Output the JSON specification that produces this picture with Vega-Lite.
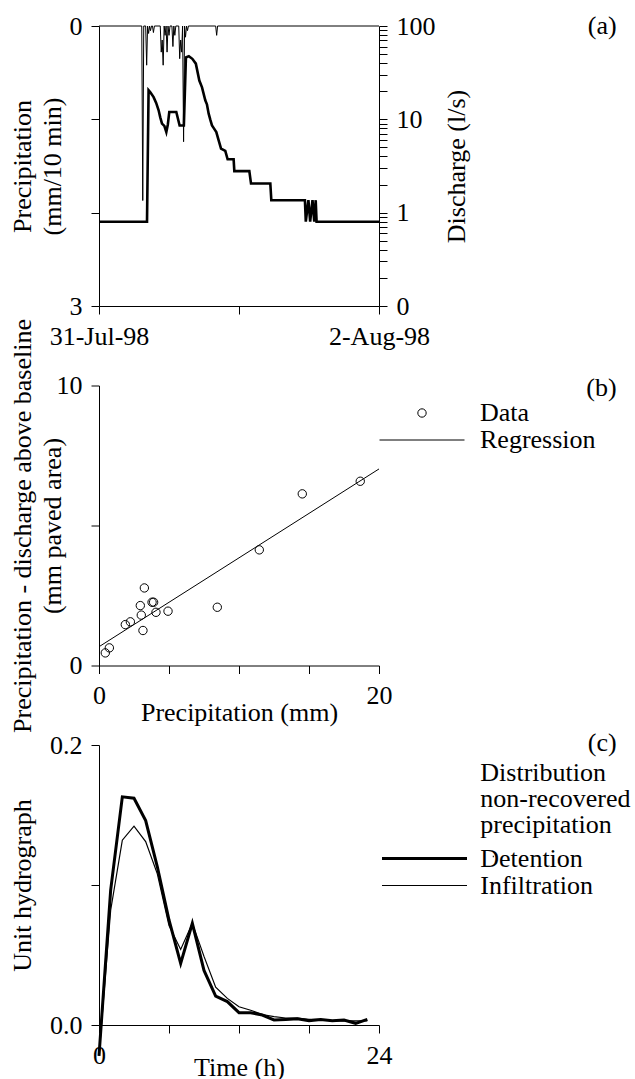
{
  "$schema": "https://vega.github.io/schema/vega-lite/v6.json",
  "padding": {"left": 9, "top": 13, "right": 5, "bottom": 0},
  "bounds": "flush",
  "spacing": 79.5,
  "datasets": {
    "precip": [
      {"hour":0,"mm":0},{"hour":7.33,"mm":0},{"hour":7.5,"mm":1.87},{"hour":7.67,"mm":0},{"hour":8.0,"mm":0},{"hour":8.17,"mm":0.42},{"hour":8.33,"mm":0},{"hour":8.5,"mm":0.08},{"hour":8.67,"mm":0},{"hour":8.83,"mm":0.05},{"hour":9.0,"mm":0},{"hour":9.17,"mm":0},{"hour":9.33,"mm":0.07},{"hour":9.5,"mm":0},{"hour":10.5,"mm":0},{"hour":10.67,"mm":0.28},{"hour":10.83,"mm":0.15},{"hour":11.0,"mm":0.42},{"hour":11.17,"mm":0},{"hour":11.33,"mm":0.1},{"hour":11.5,"mm":0},{"hour":11.67,"mm":0.28},{"hour":11.83,"mm":0},{"hour":12.0,"mm":0.1},{"hour":12.17,"mm":0},{"hour":12.5,"mm":0},{"hour":12.67,"mm":0.22},{"hour":12.83,"mm":0},{"hour":13.0,"mm":0.1},{"hour":13.17,"mm":0},{"hour":13.67,"mm":0},{"hour":13.83,"mm":0.35},{"hour":14.0,"mm":0.15},{"hour":14.17,"mm":0.28},{"hour":14.33,"mm":0},{"hour":14.5,"mm":1.24},{"hour":14.67,"mm":0},{"hour":14.83,"mm":0.12},{"hour":15.0,"mm":0},{"hour":15.17,"mm":0.05},{"hour":15.33,"mm":0},{"hour":20.0,"mm":0},{"hour":20.17,"mm":0.1},{"hour":20.33,"mm":0},{"hour":48,"mm":0}
    ],
    "discharge": [
      {"hour":0,"q":0.8},{"hour":8.23,"q":0.8},{"hour":8.5,"q":20.5},{"hour":8.8,"q":19.5},{"hour":9.36,"q":17.3},{"hour":9.8,"q":15},{"hour":10.22,"q":12.5},{"hour":10.5,"q":10.5},{"hour":10.8,"q":9.0},{"hour":11.2,"q":8.5},{"hour":11.54,"q":7.3},{"hour":11.8,"q":8.8},{"hour":12.05,"q":12},{"hour":13.25,"q":12},{"hour":13.82,"q":8.6},{"hour":14.55,"q":8.6},{"hour":14.9,"q":46},{"hour":15.4,"q":47.5},{"hour":16.0,"q":44.5},{"hour":16.6,"q":39.5},{"hour":17.2,"q":26},{"hour":17.66,"q":22},{"hour":18.22,"q":16},{"hour":18.5,"q":14.5},{"hour":18.8,"q":11.5},{"hour":19.1,"q":9.8},{"hour":19.37,"q":8.6},{"hour":19.7,"q":8},{"hour":20.11,"q":7.3},{"hour":20.5,"q":6},{"hour":20.92,"q":4.86},{"hour":21.65,"q":4.6},{"hour":22.05,"q":3.73},{"hour":23.08,"q":3.73},{"hour":23.2,"q":2.79},{"hour":25.77,"q":2.79},{"hour":26.06,"q":2.05},{"hour":29.37,"q":2.05},{"hour":29.54,"q":1.36},{"hour":35.3,"q":1.36},{"hour":35.45,"q":0.8},{"hour":35.9,"q":1.36},{"hour":36.2,"q":0.8},{"hour":36.6,"q":1.36},{"hour":36.9,"q":0.8},{"hour":37.15,"q":1.36},{"hour":37.3,"q":0.8},{"hour":48,"q":0.8}
    ],
    "points": [
      {"p":0.45,"d":0.45,"series":"Data"},{"p":0.74,"d":0.63,"series":"Data"},{"p":1.88,"d":1.46,"series":"Data"},{"p":2.24,"d":1.56,"series":"Data"},{"p":2.95,"d":2.14,"series":"Data"},{"p":3.02,"d":1.80,"series":"Data"},{"p":3.14,"d":1.25,"series":"Data"},{"p":3.24,"d":2.77,"series":"Data"},{"p":3.79,"d":2.26,"series":"Data"},{"p":3.90,"d":2.26,"series":"Data"},{"p":4.07,"d":1.90,"series":"Data"},{"p":4.93,"d":1.94,"series":"Data"},{"p":8.45,"d":2.08,"series":"Data"},{"p":11.45,"d":4.13,"series":"Data"},{"p":14.52,"d":6.13,"series":"Data"},{"p":18.66,"d":6.58,"series":"Data"}
    ],
    "regression": [
      {"p":0,"d":0.67},{"p":20,"d":7.02}
    ],
    "uh": [
      {"hour":0,"uh":-0.022,"type":"Detention"},{"hour":1,"uh":0.0964,"type":"Detention"},{"hour":2,"uh":0.163,"type":"Detention"},{"hour":3,"uh":0.162,"type":"Detention"},{"hour":4,"uh":0.146,"type":"Detention"},{"hour":5,"uh":0.113,"type":"Detention"},{"hour":6,"uh":0.075,"type":"Detention"},{"hour":7,"uh":0.044,"type":"Detention"},{"hour":8,"uh":0.0726,"type":"Detention"},{"hour":9,"uh":0.039,"type":"Detention"},{"hour":10,"uh":0.0207,"type":"Detention"},{"hour":11,"uh":0.0167,"type":"Detention"},{"hour":12,"uh":0.0088,"type":"Detention"},{"hour":13,"uh":0.0088,"type":"Detention"},{"hour":14,"uh":0.0071,"type":"Detention"},{"hour":15,"uh":0.0036,"type":"Detention"},{"hour":16,"uh":0.004,"type":"Detention"},{"hour":17,"uh":0.0045,"type":"Detention"},{"hour":18,"uh":0.003,"type":"Detention"},{"hour":19,"uh":0.004,"type":"Detention"},{"hour":20,"uh":0.003,"type":"Detention"},{"hour":21,"uh":0.0035,"type":"Detention"},{"hour":22,"uh":0.0012,"type":"Detention"},{"hour":23,"uh":0.004,"type":"Detention"},
      {"hour":0,"uh":-0.022,"type":"Infiltration"},{"hour":1,"uh":0.082,"type":"Infiltration"},{"hour":2,"uh":0.132,"type":"Infiltration"},{"hour":3,"uh":0.142,"type":"Infiltration"},{"hour":4,"uh":0.131,"type":"Infiltration"},{"hour":5,"uh":0.108,"type":"Infiltration"},{"hour":6,"uh":0.071,"type":"Infiltration"},{"hour":7,"uh":0.054,"type":"Infiltration"},{"hour":8,"uh":0.0726,"type":"Infiltration"},{"hour":9,"uh":0.049,"type":"Infiltration"},{"hour":10,"uh":0.027,"type":"Infiltration"},{"hour":11,"uh":0.019,"type":"Infiltration"},{"hour":12,"uh":0.013,"type":"Infiltration"},{"hour":13,"uh":0.0105,"type":"Infiltration"},{"hour":14,"uh":0.0075,"type":"Infiltration"},{"hour":15,"uh":0.006,"type":"Infiltration"},{"hour":16,"uh":0.005,"type":"Infiltration"},{"hour":17,"uh":0.005,"type":"Infiltration"},{"hour":18,"uh":0.004,"type":"Infiltration"},{"hour":19,"uh":0.004,"type":"Infiltration"},{"hour":20,"uh":0.003,"type":"Infiltration"},{"hour":21,"uh":0.003,"type":"Infiltration"},{"hour":22,"uh":0.003,"type":"Infiltration"},{"hour":23,"uh":0.003,"type":"Infiltration"}
    ]
  },
  "vconcat": [
    {
      "width": 280,
      "height": 280,
      "title": {"text": "(a)", "dy": 30},
      "layer": [
        {
          "data": {"name": "precip"},
          "mark": {"type": "line", "color": "black", "strokeWidth": 1},
          "encoding": {
            "x": {"field": "hour", "type": "quantitative", "scale": {"domain": [0, 48], "nice": false},
              "axis": {"values": [0, 24, 48], "labelExpr": "datum.value == 0 ? '31-Jul-98' : datum.value == 48 ? '2-Aug-98' : ''", "title": null}},
            "y": {"field": "mm", "type": "quantitative", "scale": {"domain": [0, 3], "reverse": true, "nice": false},
              "axis": {"values": [0, 1, 2, 3], "labelExpr": "datum.value == 0 || datum.value == 3 ? datum.label : ''",
                "title": ["Precipitation", "(mm/10 min)"], "titleX": -76.7, "titleY": 140, "titleBaseline": "middle", "titleAlign": "center", "titleAngle": 270, "titleLineHeight": 30}}
          }
        },
        {
          "data": {"name": "discharge"},
          "mark": {"type": "line", "color": "black", "strokeWidth": 2.6},
          "encoding": {
            "x": {"field": "hour", "type": "quantitative"},
            "y": {"field": "q", "type": "quantitative", "scale": {"type": "log", "domain": [0.1, 100], "nice": false},
              "axis": {"orient": "right", "values": [0.1,0.2,0.3,0.4,0.5,0.6,0.7,0.8,0.9,1,2,3,4,5,6,7,8,9,10,20,30,40,50,60,70,80,90,100],
                "labelExpr": "datum.value == 0.1 ? '0' : datum.value == 1 ? '1' : datum.value == 10 ? '10' : datum.value == 100 ? '100' : ''",
                "title": "Discharge (l/s)", "titleX": 77.7, "titleY": 140, "titleBaseline": "middle", "titleAlign": "center", "titleAngle": 270}}
          }
        }
      ],
      "resolve": {"scale": {"y": "independent"}}
    },
    {
      "width": 280,
      "height": 280,
      "title": {"text": "(b)", "dy": 86},
      "layer": [
        {
          "data": {"name": "points"},
          "mark": {"type": "point", "filled": false, "color": "black", "strokeWidth": 1, "opacity": 1},
          "encoding": {
            "x": {"field": "p", "type": "quantitative", "scale": {"domain": [0, 20], "nice": false},
              "axis": {"values": [0, 5, 10, 15, 20], "labelExpr": "datum.value == 0 || datum.value == 20 ? datum.label : ''",
                "title": "Precipitation (mm)", "titleY": 34, "titleBaseline": "top"}},
            "y": {"field": "d", "type": "quantitative", "scale": {"domain": [0, 10], "nice": false},
              "axis": {"values": [0, 5, 10], "labelExpr": "datum.value == 0 || datum.value == 10 ? datum.label : ''",
                "title": ["Precipitation - discharge above baseline", "(mm paved area)"], "titleX": -76.7, "titleY": 140, "titleBaseline": "middle", "titleAlign": "center", "titleAngle": 270, "titleLineHeight": 30, "titleLimit": 600}},
            "shape": {"field": "series", "type": "nominal", "scale": {"domain": ["Data", "Regression"], "range": ["circle", "stroke"]},
              "legend": {"orient": "none", "legendX": 280, "legendY": 373.5, "title": null, "clipHeight": 27, "rowPadding": 0, "padding": 0, "labelOffset": 15, "symbolStrokeColor": "black", "symbolStrokeWidth": 1, "symbolFillColor": "transparent"}},
            "size": {"field": "series", "type": "nominal", "scale": {"domain": ["Data", "Regression"], "range": [70, 7225]},
              "legend": {"orient": "none", "legendX": 280, "legendY": 373.5, "title": null, "clipHeight": 27, "rowPadding": 0, "padding": 0, "labelOffset": 15, "symbolStrokeColor": "black", "symbolStrokeWidth": 1, "symbolFillColor": "transparent"}}
          }
        },
        {
          "data": {"name": "regression"},
          "mark": {"type": "line", "color": "black", "strokeWidth": 1},
          "encoding": {
            "x": {"field": "p", "type": "quantitative"},
            "y": {"field": "d", "type": "quantitative"}
          }
        }
      ]
    },
    {
      "width": 280,
      "height": 280,
      "title": {"text": "(c)", "dy": 28},
      "data": {"name": "uh"},
      "mark": {"type": "line", "color": "black"},
      "encoding": {
        "x": {"field": "hour", "type": "quantitative", "scale": {"domain": [0, 24], "nice": false},
          "axis": {"values": [0, 6, 12, 18, 24], "labelExpr": "datum.value == 0 || datum.value == 24 ? datum.label : ''",
            "title": "Time (h)", "titleY": 29, "titleBaseline": "top"}},
        "y": {"field": "uh", "type": "quantitative", "scale": {"domain": [0, 0.2], "nice": false, "zero": false},
          "axis": {"values": [0, 0.1, 0.2], "format": ".1f", "labelExpr": "datum.value == 0 || datum.value == 0.2 ? datum.label : ''",
            "title": "Unit hydrograph", "titleX": -76.7, "titleY": 140, "titleBaseline": "middle", "titleAlign": "center", "titleAngle": 270}},
        "strokeWidth": {"field": "type", "type": "nominal", "scale": {"domain": ["Detention", "Infiltration"], "range": [3, 1.2]},
          "legend": {"orient": "none", "legendX": 281.5, "legendY": 819, "title": null,
            "symbolType": "stroke", "symbolSize": 7225, "symbolStrokeColor": "black", "clipHeight": 27, "rowPadding": 0, "padding": 0,
            "labelOffset": 11.8}},
        "opacity": {"field": "type", "type": "nominal", "scale": {"domain": ["Infiltration", "Detention"], "range": [1, 1]},
          "legend": {"orient": "none", "legendX": 381.3, "legendY": 734.4, "title": ["Distribution", "non-recovered", "precipitation"],
            "titleLineHeight": 26, "titleLimit": 400, "padding": 0, "symbolOpacity": 0, "labelOpacity": 0, "labelExpr": "''", "symbolSize": 1}}
      }
    }
  ],
  "config": {
    "font": "Liberation Serif",
    "view": {"stroke": null},
    "axis": {
      "domainColor": "black", "tickColor": "black", "labelColor": "black", "titleColor": "black",
      "labelFont": "Liberation Serif", "titleFont": "Liberation Serif",
      "labelFontSize": 26, "titleFontSize": 26, "titleFontWeight": "normal",
      "tickSize": 8, "labelPadding": 9, "grid": false, "labelFlush": false, "labelOverlap": false,
      "domainWidth": 1, "tickWidth": 1
    },
    "legend": {
      "labelFont": "Liberation Serif", "titleFont": "Liberation Serif", "labelFontSize": 26, "titleFontSize": 26,
      "titleFontWeight": "normal", "labelColor": "black", "titleColor": "black", "labelLimit": 300
    },
    "title": {
      "font": "Liberation Serif", "fontSize": 26, "fontWeight": "normal", "color": "black",
      "anchor": "end", "frame": "group", "orient": "top", "offset": 0, "baseline": "middle", "dx": 237.7
    }
  }
}
